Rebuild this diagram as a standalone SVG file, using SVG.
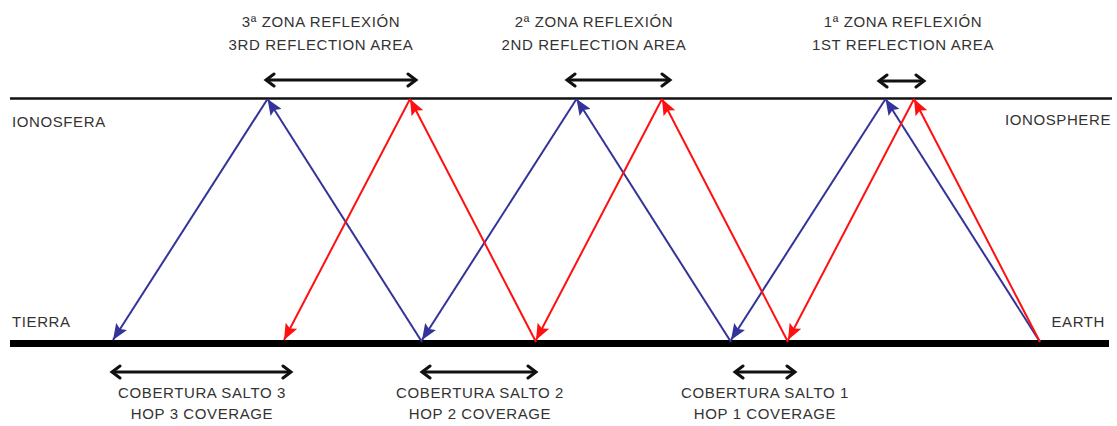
<svg xmlns="http://www.w3.org/2000/svg" width="1117" height="426" viewBox="0 0 1117 426">
<style>
.t{font-family:"Liberation Sans",Arial,sans-serif;font-size:15px;letter-spacing:0.6px;fill:#333;}
.c{text-anchor:middle;}
.blue{stroke:#333399;stroke-width:2;fill:none;}
.red{stroke:#ff1010;stroke-width:2;fill:none;}
.dbl{stroke:#111;stroke-width:3;fill:none;}
.chev{stroke:#111;stroke-width:3;fill:none;stroke-linecap:round;stroke-linejoin:miter;}
</style>
<defs>
<marker id="ab" markerUnits="userSpaceOnUse" markerWidth="17" markerHeight="13" refX="16" refY="6.5" orient="auto">
<path d="M0,0 L16,6.5 L0,13 L3,6.5 z" fill="#333399"/>
</marker>
<marker id="ar" markerUnits="userSpaceOnUse" markerWidth="17" markerHeight="13" refX="16" refY="6.5" orient="auto">
<path d="M0,0 L16,6.5 L0,13 L3,6.5 z" fill="#ff1010"/>
</marker>
<marker id="dh" markerUnits="userSpaceOnUse" markerWidth="14" markerHeight="16" refX="11" refY="8" orient="auto-start-reverse">
<path d="M3,2 L11,8 L3,14" class="chev"/>
</marker>
</defs>
<rect width="1117" height="426" fill="#fff"/>
<g id="layers">
<line x1="10" y1="98.5" x2="1112" y2="98.5" stroke="#111" stroke-width="2.5"/>
<line x1="10" y1="343.5" x2="1109" y2="343.5" stroke="#000" stroke-width="7"/>
</g>
<g id="connectors">
<g id="blue-rays">
<line class="blue" x1="1040" y1="342" x2="885.5" y2="99" marker-end="url(#ab)"/>
<line class="blue" x1="885.5" y1="99" x2="731" y2="340" marker-end="url(#ab)"/>
<line class="blue" x1="731" y1="342" x2="576.5" y2="99" marker-end="url(#ab)"/>
<line class="blue" x1="576.5" y1="99" x2="422" y2="340" marker-end="url(#ab)"/>
<line class="blue" x1="422" y1="342" x2="267.5" y2="99" marker-end="url(#ab)"/>
<line class="blue" x1="267.5" y1="99" x2="113" y2="340" marker-end="url(#ab)"/>
</g>
<g id="red-rays">
<line class="red" x1="1040" y1="342" x2="914" y2="99" marker-end="url(#ar)"/>
<line class="red" x1="914" y1="99" x2="788" y2="340" marker-end="url(#ar)"/>
<line class="red" x1="788" y1="342" x2="662" y2="99" marker-end="url(#ar)"/>
<line class="red" x1="662" y1="99" x2="536" y2="340" marker-end="url(#ar)"/>
<line class="red" x1="536" y1="342" x2="410" y2="99" marker-end="url(#ar)"/>
<line class="red" x1="410" y1="99" x2="284" y2="340" marker-end="url(#ar)"/>
</g>
<g id="range-arrows">
<line class="dbl" x1="266" y1="80" x2="416" y2="80" marker-start="url(#dh)" marker-end="url(#dh)"/>
<line class="dbl" x1="567" y1="80" x2="670" y2="80" marker-start="url(#dh)" marker-end="url(#dh)"/>
<line class="dbl" x1="879" y1="81" x2="924" y2="81" marker-start="url(#dh)" marker-end="url(#dh)"/>
<line class="dbl" x1="112" y1="372" x2="291" y2="372" marker-start="url(#dh)" marker-end="url(#dh)"/>
<line class="dbl" x1="422" y1="372" x2="536" y2="372" marker-start="url(#dh)" marker-end="url(#dh)"/>
<line class="dbl" x1="735" y1="372" x2="795" y2="372" marker-start="url(#dh)" marker-end="url(#dh)"/>
</g>
</g>
<g id="zone3">
<text class="t c" x="321" y="27">3ª ZONA REFLEXIÓN</text>
<text class="t c" x="321" y="50">3RD REFLECTION AREA</text>
</g>
<g id="zone2">
<text class="t c" x="594" y="27">2ª ZONA REFLEXIÓN</text>
<text class="t c" x="594" y="50">2ND REFLECTION AREA</text>
</g>
<g id="zone1">
<text class="t c" x="903" y="27">1ª ZONA REFLEXIÓN</text>
<text class="t c" x="903" y="50">1ST REFLECTION AREA</text>
</g>
<g id="ionosphere-labels">
<text class="t" x="12" y="127">IONOSFERA</text>
<text class="t" x="1111" y="125" text-anchor="end">IONOSPHERE</text>
</g>
<g id="earth-labels">
<text class="t" x="12" y="327">TIERRA</text>
<text class="t" x="1105" y="327" text-anchor="end">EARTH</text>
</g>
<g id="hop3">
<text class="t c" x="202" y="398">COBERTURA SALTO 3</text>
<text class="t c" x="202" y="419">HOP 3 COVERAGE</text>
</g>
<g id="hop2">
<text class="t c" x="480" y="398">COBERTURA SALTO 2</text>
<text class="t c" x="480" y="419">HOP 2 COVERAGE</text>
</g>
<g id="hop1">
<text class="t c" x="765" y="398">COBERTURA SALTO 1</text>
<text class="t c" x="765" y="419">HOP 1 COVERAGE</text>
</g>
</svg>
